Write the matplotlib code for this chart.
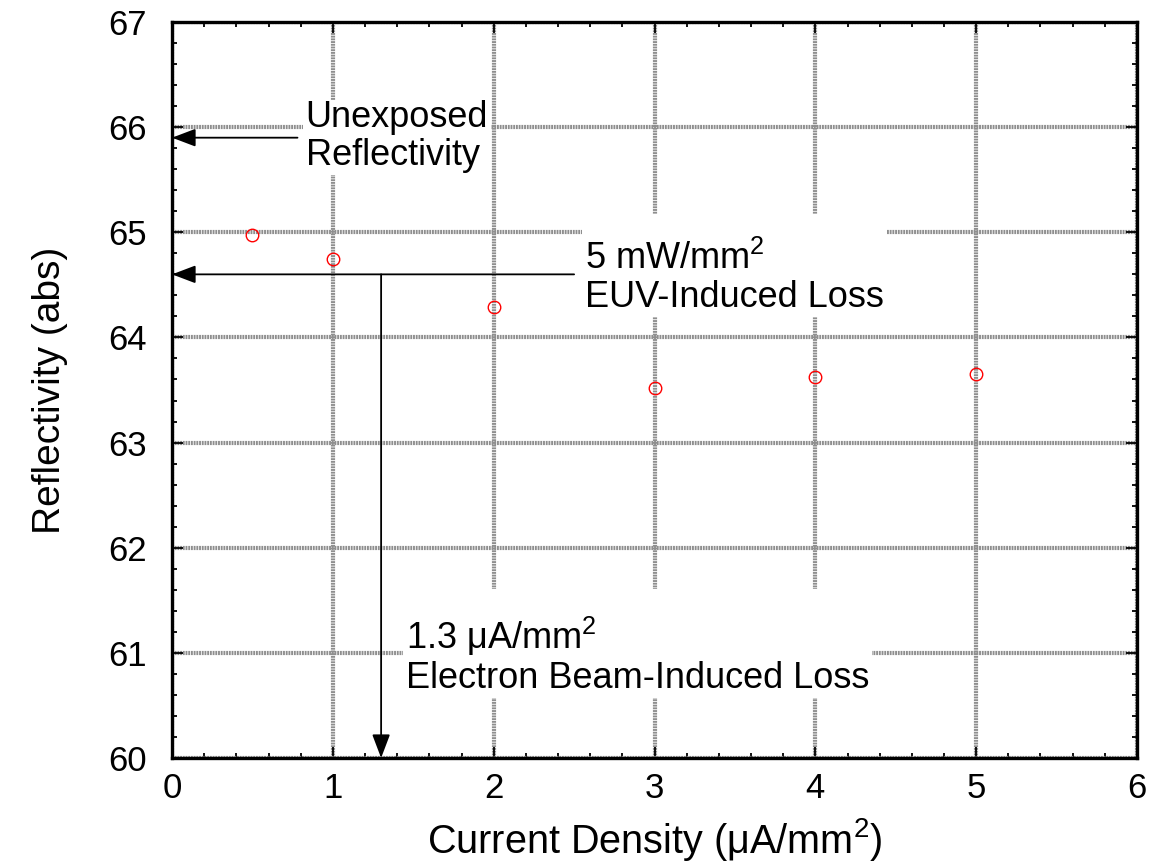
import matplotlib
matplotlib.use('Agg')
import matplotlib.pyplot as plt
from matplotlib.patches import Rectangle
from matplotlib.ticker import MultipleLocator

plt.rcParams['font.family'] = ['Liberation Sans', 'DejaVu Sans']
plt.rcParams['mathtext.fontset'] = 'custom'
plt.rcParams['mathtext.rm'] = 'Liberation Sans'
plt.rcParams['mathtext.it'] = 'Liberation Sans'

# measured reflectivity vs electron beam current density
current = [0.5, 1.0, 2.0, 3.0, 4.0, 5.0]
reflectivity = [64.97, 64.75, 64.29, 63.52, 63.62, 63.65]

unexposed_level = 65.9
euv_loss_level = 64.6
ebeam_equiv = 1.3

fig = plt.figure(figsize=(11.57, 8.64), dpi=100)
ax = fig.add_axes([0.1487, 0.1227, 0.834, 0.8518])

ax.set_xlim(0, 6)
ax.set_ylim(60, 67)
ax.xaxis.set_major_locator(MultipleLocator(1))
ax.xaxis.set_minor_locator(MultipleLocator(0.2))
ax.yaxis.set_major_locator(MultipleLocator(1))
ax.yaxis.set_minor_locator(MultipleLocator(0.2))

ax.grid(True, which='major', color='#8e8e8e', linewidth=3.0,
        linestyle=(0, (0.45, 0.2)), zorder=0)
ax.set_axisbelow(True)

for s in ax.spines.values():
    s.set_linewidth(2.4)
ax.tick_params(which='both', direction='in', top=True, right=True,
               labelsize=25, width=1.3)
ax.tick_params(which='major', length=8)
ax.tick_params(which='minor', length=3.8)
ax.tick_params(axis='x', pad=10)
ax.tick_params(axis='y', pad=18)

ax.plot(current, reflectivity, 'o', mfc='none', mec='red', ms=9, mew=1.0,
        zorder=5)

# annotation arrows
arrow_kw = dict(arrowstyle='-|>,head_length=1.45,head_width=0.55',
                color='#555555', lw=1.3, shrinkA=0, shrinkB=0)
head = dict(arrow_kw, fc='black', ec='black')
ax.annotate('', xy=(0, unexposed_level), xytext=(0.78, unexposed_level),
            arrowprops=head, zorder=4)
ax.annotate('', xy=(0, euv_loss_level), xytext=(2.5, euv_loss_level),
            arrowprops=head, zorder=4)
ax.annotate('', xy=(ebeam_equiv, 60), xytext=(ebeam_equiv, euv_loss_level),
            arrowprops=head, zorder=4)

t1 = ax.text(0.83, 65.64, 'Unexposed\nReflectivity', fontsize=26,
             ha='left', va='baseline', linespacing=1.1, zorder=6)
t2 = ax.text(2.57, 64.29, '5 mW/mm$^{2}$\nEUV-Induced Loss', fontsize=26,
             ha='left', va='baseline', linespacing=1.1, zorder=6)
t3 = ax.text(1.455, 60.665, '1.3 μA/mm$^{2}$\nElectron Beam-Induced Loss',
             fontsize=26, ha='left', va='baseline', linespacing=1.1,
             zorder=6)

ax.set_xlabel('Current Density (μA/mm$^{2}$)', fontsize=28.5, labelpad=8)
ax.set_ylabel('Reflectivity (abs)', fontsize=28, labelpad=29)

# white boxes behind the labels that break the grid
fig.canvas.draw()
inv = ax.transData.inverted()
for t, extra_top in [(t1, 0), (t2, 27), (t3, 26)]:
    bb = t.get_window_extent()
    x0, y0 = inv.transform((bb.x0 - 3, bb.y0 - 2))
    x1, y1 = inv.transform((bb.x1 + 3, bb.y1 + extra_top))
    ax.add_patch(Rectangle((x0, y0), x1 - x0, y1 - y0, fc='white',
                           ec='none', zorder=1))

fig.savefig('out.png', dpi=100)
